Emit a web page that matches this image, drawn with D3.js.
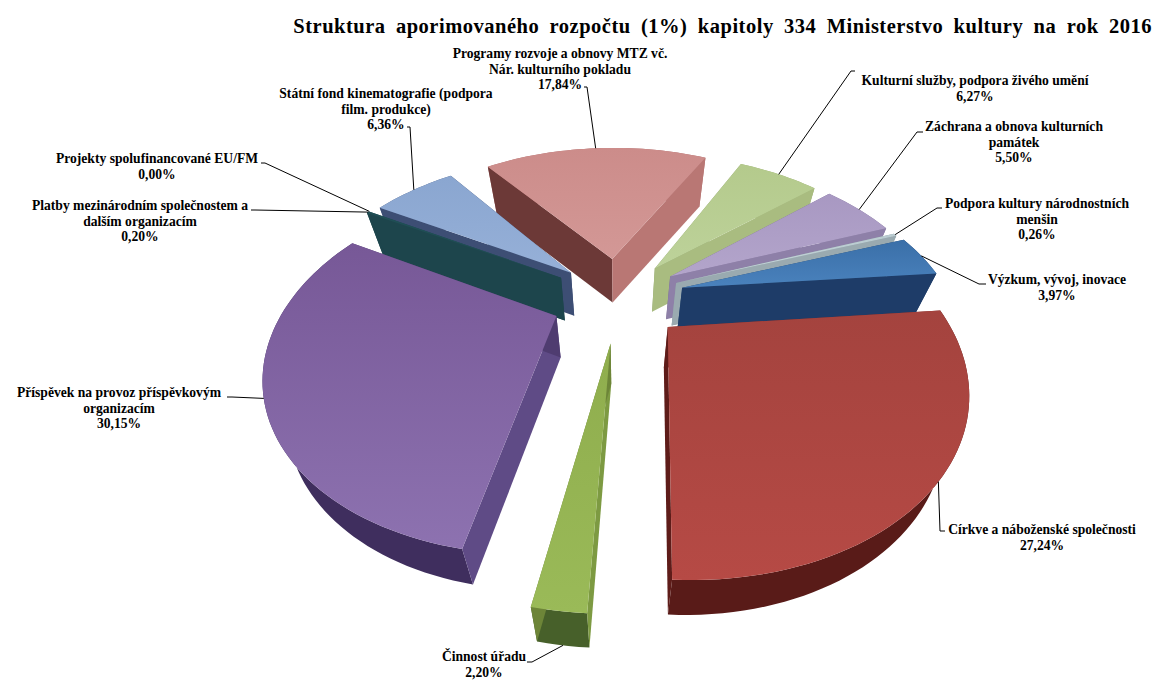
<!DOCTYPE html>
<html><head><meta charset="utf-8">
<script src="https://cdn.jsdelivr.net/npm/d3@7"></script>
<style>html,body{margin:0;padding:0;background:#fff}svg{display:block}
text{font-family:"Liberation Serif",serif;font-weight:bold;fill:#000}</style></head>
<body><svg id="c" width="1155" height="680"></svg>
<script>
const title = "Struktura aporimovaného rozpočtu (1%) kapitoly 334 Ministerstvo kultury na rok 2016";
const categories = ["Kulturní služby, podpora živého umění","Záchrana a obnova kulturních památek","Podpora kultury národnostních menšin","Výzkum, vývoj, inovace","Církve a náboženské společnosti","Činnost úřadu","Příspěvek na provoz příspěvkovým organizacím","Platby mezinárodním společnostem a dalším organizacím","Projekty spolufinancované EU/FM","Státní fond kinematografie (podpora film. produkce)","Programy rozvoje a obnovy MTZ vč. Nár. kulturního pokladu"];
const values = [6.27,5.50,0.26,3.97,27.24,2.20,30.15,0.20,0.00,6.36,17.84];
const labelLines = [["Kulturní služby, podpora živého umění","6,27%"],["Záchrana a obnova kulturních","památek","5,50%"],["Podpora kultury národnostních","menšin","0,26%"],["Výzkum, vývoj, inovace","3,97%"],["Církve a náboženské společnosti","27,24%"],["Činnost úřadu","2,20%"],["Příspěvek na provoz příspěvkovým","organizacím","30,15%"],["Platby mezinárodním společnostem a","dalším organizacím","0,20%"],["Projekty spolufinancované EU/FM","0,00%"],["Státní fond kinematografie (podpora","film. produkce)","6,36%"],["Programy rozvoje a obnovy MTZ vč.","Nár. kulturního pokladu","17,84%"]];
// layout: explosion, per-slice nudge, label centre/first baseline, elbow of leader
const explosion = [66,70,70,72,73,75,65,64,64,64,70];
const nudge = [[4,3],[0,2],[0,2],[1,2],[0,0],[8,0],[5,4],[3,1],[3,1],[5,2],[6,3]];
const labelPos = [[975,85],[1014,131],[1037,208],[1057,284],[1042,534],[484,661],[119,397],[140,210],[157,163],[386,98],[560,58]];
const elbow = [[[855,71],[851,71]],[[923,132],[917,132]],[[942,208],[937,208]],[[986,284],[979,284]],[[945,531],[940,531]],[[527,662],[532,662]],[[227,397],[232,397]],[[251,210],[255,210]],[[261,163],[265,163]],[[407,127],[410,127]],[[584,87],[587,87]]];
const topA  = ["#B4CA8C","#A898C2","#B9CBD0","#3A6FA8","#A4433E","#8FAD4D","#775897","#1F4E55","#8E8E8E","#8AA6D0","#CC8C8A"];
const topB  = ["#BDD29A","#B3A5CB","#C5D5DA","#4A82BD","#B64A45","#9ABA58","#8D72B0","#1F4E55","#8E8E8E","#96B0D8","#D39896"];
const wallStart = ["#8D9F6A","#75668F","#8A9AA0","#28496F","#7A2A27","#7D9A42","#5F4B86","#1D454C","#666","#3D4E74","#6C3937"];
const wallEnd = ["#A9BC80","#8E80A8","#9AAAB0","#1E3C68","#5E1C19","#6D8538","#4F3C70","#1D454C","#666","#3D4E74","#B97774"];
const wallOuter = ["#9AAD72","#7E7098","#8A9AA0","#1E3C68","#591B18","#47602A","#3F2E5E","#1D454C","#666","#4D5E84","#B07070"];

const R=268,D=3.6,K=0.6,CX=612,CY=295,PHI=27*Math.PI/180;
const svg=d3.select("#c");
const defs=svg.append("defs");
const pieGen=d3.pie().sort(null).startAngle(PHI).endAngle(PHI+2*Math.PI);
const arcs=pieGen(values);

function proj(u,v){const s=D/(D-v/R);return [CX+u*s,CY+K*v*s];}
function drop(u,v){const p=proj(u,v);return [p[0]+(CX-p[0])*0.07,p[1]+42-6*v/R];}
const line=d3.line();

const slices=arcs.map((a,i)=>{
  const mid=(a.startAngle+a.endAngle)/2;
  const ou=explosion[i]*Math.sin(mid),ov=-explosion[i]*Math.cos(mid);
  const n=Math.max(2,Math.ceil((a.endAngle-a.startAngle)/0.03));
  const ts=d3.range(n+1).map(j=>a.startAngle+(a.endAngle-a.startAngle)*j/n);
  const w=ts.map(t=>[ou+R*Math.sin(t),ov-R*Math.cos(t)]);
  return {i,mid,ou,ov,w,depth:proj(ou,ov)[1]};
});

const order=slices.slice().sort((a,b)=>a.depth-b.depth);
const root=svg.append("g");
order.forEach(sl=>{
  const i=sl.i;
  if(values[i]===0) return;
  const g=root.append("g").attr("transform",`translate(${nudge[i][0]},${nudge[i][1]})`);
  const gid="top"+i;
  const gr=defs.append("linearGradient").attr("id",gid).attr("x1",0).attr("y1",0).attr("x2",0).attr("y2",1);
  gr.append("stop").attr("offset",0).attr("stop-color",topA[i]);
  gr.append("stop").attr("offset",1).attr("stop-color",topB[i]);
  const top=sl.w.map(p=>proj(p[0],p[1]));
  const bot=sl.w.map(p=>drop(p[0],p[1]));
  const ap=proj(sl.ou,sl.ov),ab=drop(sl.ou,sl.ov);
  g.append("path").attr("d",line(top.concat(bot.slice().reverse()))+"Z").attr("fill",wallOuter[i]);
  g.append("path").attr("d",line([ap,top[0],bot[0],ab])+"Z").attr("fill",wallStart[i]);
  const e=top.length-1;
  g.append("path").attr("d",line([ap,top[e],bot[e],ab])+"Z").attr("fill",wallEnd[i]);
  g.append("path").attr("d",line([ap].concat(top))+"Z").attr("fill","url(#"+gid+")");
});

const lg=svg.append("g").attr("fill","none").attr("stroke","#000").attr("stroke-width",1);
slices.forEach(sl=>{
  const i=sl.i;
  const t=sl.mid;
  const wu=sl.ou+R*Math.sin(t),wv=sl.ov-R*Math.cos(t);
  const p=(i===5)?drop(wu,wv):proj(wu,wv);
  const end=[p[0]+nudge[i][0],p[1]+nudge[i][1]];
  lg.append("path").attr("d",line([elbow[i][0],elbow[i][1],end]));
});

const lh=15.6;
labelLines.forEach((ls,i)=>{
  const t=svg.append("text").attr("text-anchor","middle").style("font-size","13.6px");
  ls.forEach((s,j)=>t.append("tspan").attr("x",labelPos[i][0]).attr("y",labelPos[i][1]+j*lh).text(s));
});
svg.append("text").attr("x",1152).attr("y",33).attr("text-anchor","end").style("font-size","20.5px").style("word-spacing","4.8px").style("letter-spacing","0.5px").text(title);
</script></body></html>
